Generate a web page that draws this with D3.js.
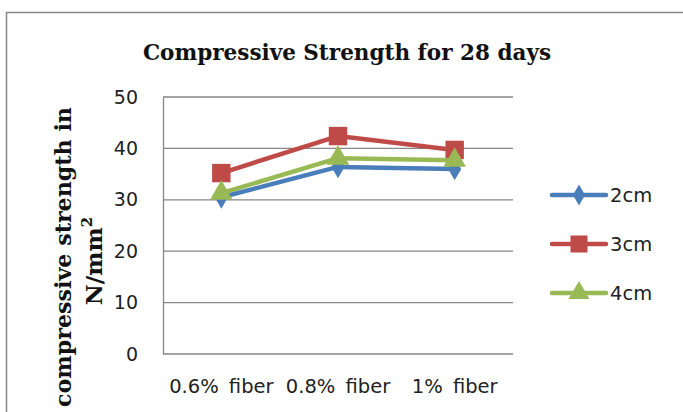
<!DOCTYPE html>
<html>
<head>
<meta charset="utf-8">
<script src="https://cdn.jsdelivr.net/npm/d3@7"></script>
<style>
  body { margin: 0; background: #fff; }
</style>
</head>
<body>
<svg id="chart" width="683" height="412"></svg>
<script>
const categories = ["0.6% fiber", "0.8% fiber", "1% fiber"];
const seriesNames = ["2cm", "3cm", "4cm"];
const values2cm = [30.5, 36.4, 36.0];
const values3cm = [35.2, 42.4, 39.7];
const values4cm = [31.3, 38.1, 37.7];
const yTicks = [0, 10, 20, 30, 40, 50];

const series = [
  { name: seriesNames[0], values: values2cm, color: "#4a7ebb", shape: d3.symbolDiamond, size: 150 },
  { name: seriesNames[1], values: values3cm, color: "#be4b48", shape: d3.symbolSquare, size: 340 },
  { name: seriesNames[2], values: values4cm, color: "#98b954", shape: d3.symbolTriangle, size: 220 },
];

const margin = { top: 97, right: 170, bottom: 58, left: 163 },
  width = 683, height = 412;

const sans = "'DejaVu Sans', Verdana, sans-serif";
const serif = "'DejaVu Serif', 'Liberation Serif', serif";

const svg = d3.select("#chart");

// outer chart frame
svg.append("rect")
  .attr("x", 6.5).attr("y", 12.5)
  .attr("width", 700).attr("height", 420)
  .attr("fill", "none").attr("stroke", "#868686").attr("stroke-width", 1.5);

const x = d3.scaleBand(categories, [margin.left, width - margin.right]);
const y = d3.scaleLinear([0, 50], [height - margin.bottom, margin.top]);

// gridlines
svg.append("g")
  .selectAll("line")
  .data(yTicks)
  .join("line")
  .attr("x1", margin.left).attr("x2", width - margin.right)
  .attr("y1", d => y(d)).attr("y2", d => y(d))
  .attr("stroke", "#868686").attr("stroke-width", 1.3);

// y axis
svg.append("g")
  .attr("transform", `translate(${margin.left},0)`)
  .call(d3.axisLeft(y).tickValues(yTicks).tickSize(0).tickPadding(25))
  .call(g => g.select(".domain").attr("stroke", "#868686").attr("stroke-width", 1.3))
  .call(g => g.selectAll("text")
    .attr("font-family", sans)
    .attr("font-size", 19).attr("fill", "#222"));

// x axis labels
svg.append("g")
  .attr("transform", `translate(0,${height - margin.bottom})`)
  .call(d3.axisBottom(x).tickSize(0).tickPadding(25))
  .call(g => g.select(".domain").remove())
  .call(g => g.selectAll("text")
    .attr("font-family", sans)
    .attr("font-size", 19.5).attr("fill", "#222")
    .attr("word-spacing", 4));

const line = d3.line()
  .x((d, i) => x(categories[i]) + x.bandwidth() / 2)
  .y(d => y(d));

const sg = svg.append("g")
  .selectAll("g")
  .data(series)
  .join("g");

sg.append("path")
  .attr("fill", "none")
  .attr("stroke", d => d.color)
  .attr("stroke-width", 4.5)
  .attr("stroke-linejoin", "round")
  .attr("d", d => line(d.values));

sg.each(function (s) {
  d3.select(this).selectAll("path.marker")
    .data(s.values)
    .join("path")
    .attr("class", "marker")
    .attr("transform", (d, i) => `translate(${x(categories[i]) + x.bandwidth() / 2},${y(d)})`)
    .attr("d", d3.symbol(s.shape, s.size))
    .attr("fill", s.color);
});

// title
svg.append("text")
  .attr("x", 347).attr("y", 60)
  .attr("text-anchor", "middle")
  .attr("font-family", serif)
  .attr("font-weight", "bold")
  .attr("font-size", 23)
  .attr("fill", "#111")
  .attr("textLength", 408)
  .attr("lengthAdjust", "spacingAndGlyphs")
  .text("Compressive Strength for 28 days");

// y axis title
const yt = svg.append("text")
  .attr("transform", "translate(0,257) rotate(-90)")
  .attr("text-anchor", "middle")
  .attr("font-family", serif)
  .attr("font-weight", "bold")
  .attr("font-size", 23)
  .attr("fill", "#111");
yt.append("tspan").attr("x", 0).attr("y", 71)
  .attr("textLength", 300).attr("lengthAdjust", "spacingAndGlyphs")
  .text("compressive strength in");
const t2 = yt.append("tspan").attr("x", -4).attr("y", 102).text("N/mm");
t2.append("tspan").attr("dy", -10).attr("font-size", 15).text("2");

// legend
const legend = svg.append("g")
  .selectAll("g")
  .data(series)
  .join("g")
  .attr("transform", (d, i) => `translate(552,${195 + i * 49})`);

legend.append("line")
  .attr("x1", 0).attr("x2", 54)
  .attr("stroke", d => d.color).attr("stroke-width", 4.5)
  .attr("stroke-linecap", "round");

legend.append("path")
  .attr("transform", "translate(27,0)")
  .attr("d", d => d3.symbol(d.shape, d.size * 0.85)())
  .attr("fill", d => d.color);

legend.append("text")
  .attr("x", 58).attr("y", 7)
  .attr("font-family", sans)
  .attr("font-size", 19.5).attr("fill", "#222")
  .text(d => d.name);
</script>
</body>
</html>
